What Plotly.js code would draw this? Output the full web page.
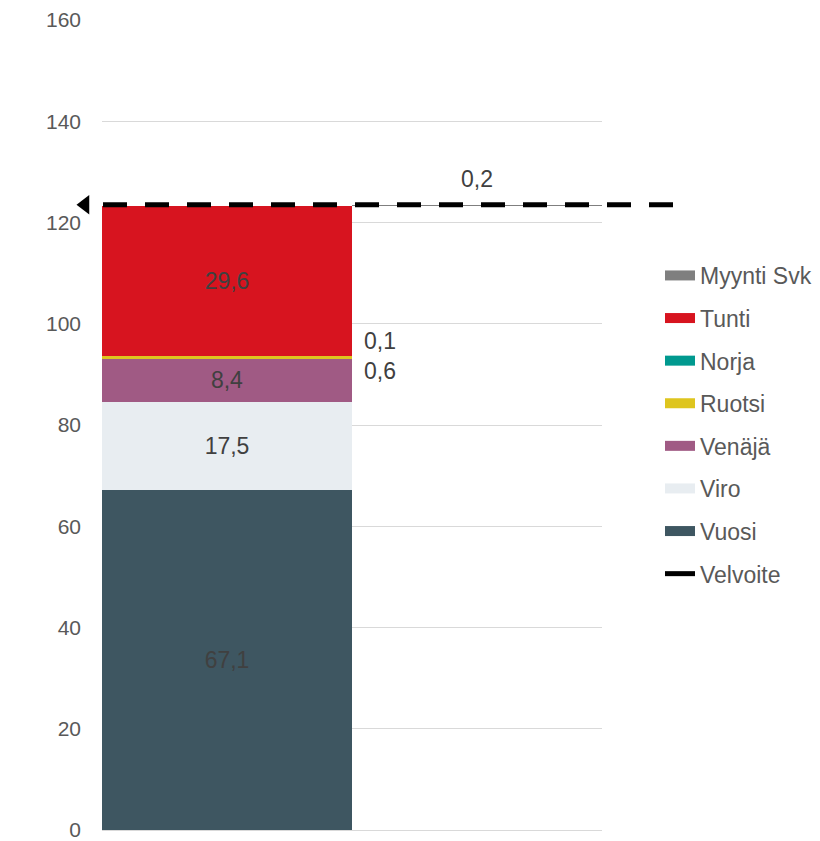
<!DOCTYPE html>
<html>
<head>
<meta charset="utf-8">
<script src="https://cdn.plot.ly/plotly-3.0.1.min.js"></script>
<style>html,body{margin:0;padding:0;background:#fff}#chart{width:820px;height:841px}</style>
</head>
<body>
<div id="chart"></div>
<script>
// ---- data ----
const categories = ['Hankinta', 'Myynti'];
const vuosi = [67.1, null];
const viro = [17.5, null];
const venaja = [8.4, null];
const ruotsi = [0.6, null];
const norja = [0.1, null];
const tunti = [29.6, null];
const myyntiSvk = [null, 0.2];
const velvoite = [123.5];
const yTicks = [0, 20, 40, 60, 80, 100, 120, 140, 160];

// ---- helpers ----
const FONT = 'Liberation Sans, Arial, sans-serif';
const fmt = v => (v == null ? '' : v.toFixed(1).replace('.', ','));
const stackOrder = [vuosi, viro, venaja, ruotsi, norja, tunti];
const bases = [];
let run = categories.map(() => 0);
stackOrder.forEach(s => { bases.push(run.slice()); run = run.map((r, i) => r + (s[i] || 0)); });
const stackTop0 = run[0];
const myyntiBase = categories.map((c, i) => (myyntiSvk[i] == null ? null : stackTop0));
const baseOf = s => bases[stackOrder.indexOf(s)];

const textFont = {family: FONT, size: 23, color: '#404040'};

function bar(name, vals, color, base, showText) {
  return {
    type: 'bar', name: name, x: categories, y: vals, base: base,
    marker: {color: color, line: {width: 0}},
    text: showText ? vals.map(fmt) : undefined,
    textposition: showText ? 'inside' : 'none',
    insidetextanchor: 'middle', textangle: 0, constraintext: 'none',
    textfont: textFont, showlegend: false, xaxis: 'x', yaxis: 'y'
  };
}
// legend swatch entries (wide rectangles like the original)
function swatch(name, color, grp, width) {
  return {type: 'scatter', mode: 'lines', name: name, x: [0], y: [velvoite[0]],
          line: {color: color, width: width}, legendgroup: grp, xaxis: 'x2', yaxis: 'y2'};
}

const series = [
  ['Myynti Svk', myyntiSvk, '#7f7f7f', myyntiBase, false],
  ['Tunti', tunti, '#d7141f', baseOf(tunti), true],
  ['Norja', norja, '#00998f', baseOf(norja), false],
  ['Ruotsi', ruotsi, '#dec51e', baseOf(ruotsi), false],
  ['Venäjä', venaja, '#a05a84', baseOf(venaja), true],
  ['Viro', viro, '#e8edf1', baseOf(viro), true],
  ['Vuosi', vuosi, '#3e5661', baseOf(vuosi), true]
];

const traces = [];
series.forEach(s => traces.push(bar(s[0], s[1], s[2], s[3], s[4])));
series.forEach((s, i) => traces.push(swatch(s[0], s[2], 'g' + i, 12)));
traces.push(swatch('Velvoite', '#000', 'g8', 5));
// dashed Velvoite line
traces.push({type: 'scatter', mode: 'lines', name: 'Velvoite', x: [103, 675], y: [velvoite[0], velvoite[0]],
   line: {color: '#000', width: 5, dash: '24px,18px'}, showlegend: false, xaxis: 'x2', yaxis: 'y2'});
// arrow head
traces.push({type: 'scatter', mode: 'markers', name: 'Velvoite', x: [85], y: [velvoite[0]],
   marker: {symbol: 'triangle-left', size: 17, color: '#000'}, showlegend: false,
   cliponaxis: false, xaxis: 'x2', yaxis: 'y2'});

const L = 78, R = 815; // paper region pixel span
const dom = px => (px - L) / (R - L);

const annotations = [
  {xref: 'x', yref: 'y', x: 0.54, y: baseOf(norja)[0] + norja[0], yshift: 15, xanchor: 'left',
   text: fmt(norja[0]), showarrow: false, font: textFont},
  {xref: 'x', yref: 'y', x: 0.54, y: baseOf(ruotsi)[0] + ruotsi[0], yshift: -15, xanchor: 'left',
   text: fmt(ruotsi[0]), showarrow: false, font: textFont},
  {xref: 'x', yref: 'y', x: 1, y: myyntiBase[1] + myyntiSvk[1], yshift: 26, xanchor: 'center',
   text: fmt(myyntiSvk[1]), showarrow: false, font: textFont}
];

const layout = {
  width: 820, height: 841,
  margin: {l: L, r: 820 - R, t: 20, b: 11, autoexpand: false},
  paper_bgcolor: '#fff', plot_bgcolor: 'rgba(0,0,0,0)',
  barmode: 'overlay', bargap: 0,
  hovermode: false,
  font: {family: FONT, size: 23, color: '#595959'},
  xaxis: {type: 'category', domain: [dom(102), dom(602)], range: [-0.5, 1.5], automargin: false,
          showticklabels: false, showgrid: false, zeroline: false, showline: false, ticks: ''},
  yaxis: {anchor: 'x', range: [0, 160], tickvals: yTicks, ticktext: yTicks.map(String),
          automargin: false, ticklabeloverflow: 'allow',
          showgrid: true, gridcolor: '#d9d9d9', gridwidth: 1,
          zeroline: true, zerolinecolor: '#d9d9d9', zerolinewidth: 1,
          showline: false, ticks: '', ticklabelstandoff: 20,
          tickfont: {family: FONT, size: 21, color: '#595959'}},
  xaxis2: {domain: [0, 1], range: [L, R], anchor: 'y2', visible: false, fixedrange: true},
  yaxis2: {anchor: 'x2', range: [0, 160], visible: false, fixedrange: true},
  showlegend: true,
  legend: {x: dom(660), xanchor: 'left', y: (830 - 254) / 810, yanchor: 'top',
           traceorder: 'grouped', tracegroupgap: 9.7, bgcolor: 'rgba(0,0,0,0)',
           font: {family: FONT, size: 23, color: '#595959'}},
  annotations: annotations
};

Plotly.newPlot('chart', traces, layout, {staticPlot: true, displayModeBar: false});
</script>
</body>
</html>
